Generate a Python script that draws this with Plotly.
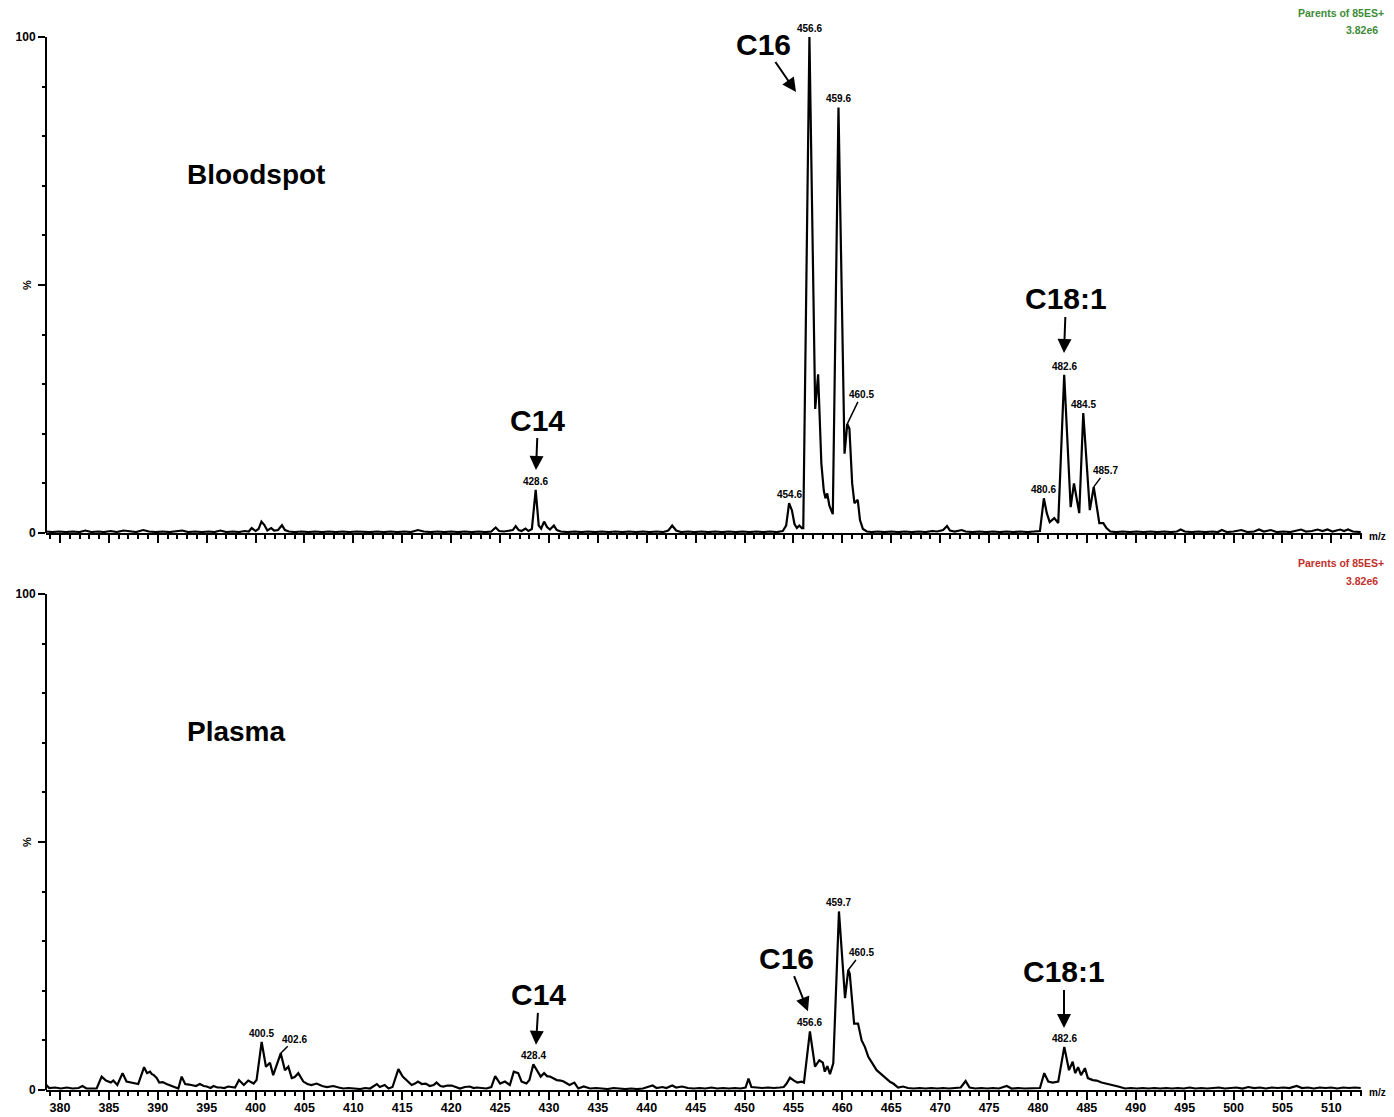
import plotly.graph_objects as go

# ---------------- data ----------------
bs_mz = [378.6, 379.2, 379.9, 380.6, 381.3, 382.0, 382.6, 383.2, 383.9, 384.5, 385.2, 385.8, 386.5, 387.1,
         387.8, 388.5, 389.1, 389.8, 390.5, 391.2, 391.9, 392.5, 393.1, 393.8, 394.5, 395.2, 395.8, 396.4,
         397.0, 397.7, 398.3, 398.9, 399.3, 399.6, 400.0, 400.3, 400.6, 400.9, 401.2, 401.6, 401.9, 402.3,
         402.7, 403.0, 403.4, 404.0, 404.7, 405.4, 406.1, 406.8, 407.5, 408.2, 408.9, 409.6, 410.3, 411.0,
         411.7, 412.4, 413.1, 413.8, 414.5, 415.2, 415.9, 416.6, 417.2, 417.9, 418.6, 419.3, 420.0, 420.7,
         421.4, 422.1, 422.8, 423.5, 424.1, 424.55, 424.9, 425.4, 425.9, 426.3, 426.6, 426.9, 427.2, 427.6,
         427.9, 428.25, 428.64, 428.95, 429.2, 429.5, 429.8, 430.1, 430.5, 430.8, 431.2, 431.9, 432.6, 433.3,
         434.0, 434.7, 435.4, 436.1, 436.8, 437.5, 438.2, 438.9, 439.6, 440.3, 441.0, 441.7, 442.2, 442.6,
         443.0, 443.5, 444.2, 444.9, 445.6, 446.3, 447.0, 447.7, 448.4, 449.1, 449.8, 450.5, 451.2, 451.9,
         452.6, 453.3, 453.9, 454.25, 454.55, 454.85, 455.1, 455.35, 455.6, 455.85, 456.0, 456.63, 457.22,
         457.52, 457.85, 458.1, 458.27, 458.45, 458.67, 459.02, 459.6, 460.22, 460.5, 460.72, 461.0, 461.23,
         461.57, 461.8, 462.1, 462.5, 463.0, 463.6, 464.3, 465.0, 465.7, 466.4, 467.1, 467.8, 468.5, 469.2,
         469.7, 470.3, 470.7, 471.0, 471.5, 472.2, 472.6, 473.3, 474.0, 474.7, 475.4, 476.1, 476.8, 477.5,
         478.2, 478.9, 479.6, 480.2, 480.6, 480.9, 481.2, 481.67, 482.07, 482.68, 483.34, 483.68, 484.22,
         484.63, 485.3, 485.7, 486.27, 486.68, 487.0, 487.4, 488.0, 488.7, 489.4, 490.1, 490.8, 491.5, 492.2,
         492.9, 493.6, 494.2, 494.6, 495.0, 495.7, 496.4, 497.1, 497.8, 498.4, 498.8, 499.3, 500.0, 500.8,
         501.4, 502.1, 502.6, 503.1, 503.8, 504.4, 505.1, 505.8, 506.4, 506.9, 507.4, 508.0, 508.6, 509.1,
         509.6, 510.1, 510.9, 511.3, 511.7, 512.2, 513.0]
bs_int = [0.3, 0.2, 0.3, 0.2, 0.3, 0.2, 0.5, 0.2, 0.3, 0.2, 0.4, 0.2, 0.5, 0.3,
          0.2, 0.6, 0.3, 0.2, 0.3, 0.2, 0.3, 0.5, 0.2, 0.3, 0.2, 0.3, 0.2, 0.5,
          0.2, 0.3, 0.2, 0.4, 0.3, 1.0, 0.4, 0.8, 2.3, 1.6, 0.5, 1.0, 0.5, 0.6,
          1.6, 0.6, 0.3, 0.2, 0.3, 0.2, 0.3, 0.2, 0.3, 0.2, 0.3, 0.2, 0.3, 0.2,
          0.2, 0.3, 0.2, 0.3, 0.2, 0.3, 0.2, 0.6, 0.3, 0.2, 0.3, 0.2, 0.3, 0.2,
          0.3, 0.2, 0.3, 0.2, 0.3, 1.1, 0.4, 0.3, 0.4, 0.6, 1.4, 0.6, 0.4, 0.9,
          0.4, 0.8, 8.7, 1.5, 0.9, 2.3, 1.2, 0.7, 1.5, 0.6, 0.3, 0.2, 0.3, 0.2,
          0.3, 0.2, 0.3, 0.2, 0.3, 0.2, 0.3, 0.2, 0.3, 0.2, 0.3, 0.2, 0.5, 1.5,
          0.5, 0.2, 0.3, 0.2, 0.3, 0.2, 0.3, 0.2, 0.3, 0.2, 0.3, 0.2, 0.3, 0.2,
          0.3, 0.2, 0.4, 1.5, 6.0, 4.5, 1.8, 1.0, 1.5, 1.0, 1.0, 100.0, 25.0,
          32.0, 14.0, 8.5, 7.0, 8.0, 5.5, 3.8, 85.8, 16.0, 22.0, 21.0, 10.0, 6.0,
          6.7, 2.6, 0.8, 0.3, 0.2, 0.3, 0.2, 0.3, 0.2, 0.3, 0.2, 0.3, 0.2, 0.4,
          0.3, 0.6, 1.4, 0.5, 0.3, 0.6, 0.3, 0.2, 0.3, 0.2, 0.3, 0.2, 0.3, 0.2,
          0.3, 0.2, 0.3, 0.4, 7.0, 4.0, 2.2, 3.0, 2.0, 31.9, 5.2, 10.0, 4.0,
          24.2, 4.6, 9.3, 2.0, 2.0, 1.0, 0.3, 0.2, 0.3, 0.2, 0.3, 0.2, 0.3, 0.2,
          0.3, 0.2, 0.3, 0.7, 0.3, 0.2, 0.3, 0.2, 0.3, 0.2, 0.6, 0.2, 0.3, 0.6,
          0.2, 0.3, 0.7, 0.3, 0.6, 0.2, 0.3, 0.2, 0.4, 0.7, 0.3, 0.4, 0.7, 0.4,
          0.7, 0.3, 0.7, 0.4, 0.7, 0.3, 0.2]

pl_mz = [378.6, 378.9, 379.5, 380.1, 380.7, 381.3, 381.9, 382.3, 382.7, 383.3, 383.75, 384.26, 384.7,
         385.2, 385.45, 385.86, 386.4, 386.8, 387.2, 387.6, 388.0, 388.6, 388.9, 389.2, 389.4, 389.6,
         389.9, 390.15, 390.5, 390.9, 391.6, 392.1, 392.44, 392.8, 393.2, 393.5, 393.9, 394.3, 394.7,
         395.0, 395.4, 395.7, 396.1, 396.4, 396.8, 397.2, 397.6, 397.9, 398.3, 398.8, 399.25, 399.8,
         400.1, 400.62, 401.06, 401.47, 401.8, 402.16, 402.57, 403.0, 403.35, 403.7, 404.0, 404.37,
         404.88, 405.3, 405.7, 406.25, 406.8, 407.3, 407.95, 408.5, 408.97, 409.5, 410.1, 410.7, 411.2,
         411.7, 412.4, 412.7, 413.2, 413.6, 414.0, 414.6, 415.04, 415.45, 415.96, 416.3, 416.6, 417.0,
         417.4, 417.8, 418.2, 418.5, 418.9, 419.2, 419.6, 420.05, 420.5, 420.9, 421.4, 421.9, 422.3,
         422.6, 423.1, 423.6, 424.1, 424.5, 425.0, 425.5, 426.0, 426.4, 426.85, 427.2, 427.7, 428.0,
         428.4, 428.8, 429.15, 429.5, 429.8, 430.1, 430.5, 430.8, 431.2, 431.5, 432.1, 432.6, 433.0,
         433.55, 434.2, 434.8, 435.4, 436.0, 436.6, 437.2, 437.8, 438.4, 439.0, 439.6, 440.2, 440.6,
         441.0, 441.6, 442.0, 442.6, 443.0, 443.6, 444.2, 444.8, 445.4, 446.0, 446.6, 447.2, 447.8,
         448.4, 449.0, 449.6, 450.1, 450.4, 450.7, 451.2, 451.8, 452.4, 453.0, 453.6, 454.0, 454.3,
         454.64, 455.05, 455.4, 455.83, 456.07, 456.68, 457.2, 457.64, 458.0, 458.2, 458.46, 458.73,
         459.07, 459.65, 460.27, 460.6, 460.75, 461.2, 461.6, 461.97, 462.3, 462.65, 463.16, 463.5,
         463.85, 464.2, 464.5, 464.9, 465.2, 465.7, 466.2, 466.7, 467.3, 467.9, 468.5, 469.1, 469.7,
         470.3, 470.9, 471.5, 472.1, 472.6, 473.0, 473.6, 474.2, 474.8, 475.4, 476.0, 476.8, 477.3,
         478.0, 478.6, 479.3, 480.2, 480.64, 481.05, 481.5, 482.07, 482.69, 483.17, 483.55, 483.8,
         484.1, 484.4, 484.8, 485.1, 485.6, 486.0, 486.5, 487.0, 487.7, 488.2, 488.9, 489.5, 490.1,
         490.7, 491.3, 491.9, 492.5, 493.1, 493.7, 494.3, 494.9, 495.5, 496.1, 496.7, 497.3, 497.9,
         498.5, 499.1, 499.7, 500.3, 500.9, 501.5, 502.1, 502.7, 503.3, 503.9, 504.5, 505.1, 505.7,
         506.45, 507.0, 507.6, 508.2, 508.8, 509.4, 510.0, 510.6, 511.2, 511.8, 512.4, 513.0]
pl_int = [1.0, 0.4, 0.5, 0.3, 0.5, 0.3, 0.4, 0.8, 0.3, 0.3, 0.3, 2.7, 1.9,
          1.5, 1.9, 1.0, 3.4, 1.7, 1.5, 1.4, 1.2, 4.6, 3.4, 3.7, 3.2, 3.0,
          2.4, 1.5, 1.6, 1.2, 0.7, 0.3, 2.7, 1.2, 1.1, 1.0, 0.8, 1.2, 0.8,
          0.7, 0.4, 0.8, 0.5, 0.5, 0.4, 0.7, 0.5, 0.5, 2.0, 1.0, 1.9, 1.3,
          2.0, 9.7, 4.7, 5.5, 3.0, 5.0, 7.4, 4.0, 4.7, 2.4, 2.6, 3.4,
          1.7, 1.2, 1.0, 1.3, 0.8, 0.6, 0.8, 0.5, 0.3, 0.4, 0.3, 0.2, 0.4,
          0.3, 1.2, 0.6, 1.0, 0.3, 0.6, 4.2, 2.7, 2.0, 1.0, 1.3, 1.7, 1.2,
          1.3, 0.8, 1.0, 1.5, 0.8, 0.7, 0.9, 0.9, 0.6, 0.3, 0.6, 0.7, 0.4,
          0.5, 0.4, 0.3, 0.6, 2.8, 1.3, 1.7, 1.0, 3.7, 3.4, 1.7, 1.3, 2.0,
          5.2, 4.0, 2.7, 3.4, 2.8, 2.7, 2.3, 2.0, 1.9, 1.7, 1.0, 1.5, 0.3,
          0.7, 0.3, 0.4, 0.3, 0.2, 0.4, 0.3, 0.2, 0.3, 0.2, 0.3, 0.6, 0.9,
          0.4, 0.6, 0.4, 0.9, 0.5, 0.7, 0.4, 0.3, 0.4, 0.3, 0.5, 0.3, 0.4,
          0.3, 0.4, 0.3, 0.5, 2.3, 0.6, 0.5, 0.4, 0.5, 0.4, 0.5, 0.6, 1.3,
          2.5, 1.9, 1.5, 1.7, 1.5, 11.8, 4.7, 6.0, 5.5, 3.7, 4.8, 3.2,
          5.4, 36.0, 18.5, 24.2, 23.5, 13.4, 13.4, 10.0, 8.7, 6.7, 5.0, 4.0,
          3.4, 2.8, 2.3, 1.6, 1.3, 0.5, 0.7, 0.4, 0.3, 0.4, 0.3, 0.4, 0.3,
          0.4, 0.3, 0.4, 0.5, 1.8, 0.5, 0.3, 0.4, 0.3, 0.4, 0.3, 0.8, 0.3,
          0.4, 0.3, 0.4, 0.4, 3.4, 1.7, 1.5, 1.7, 8.7, 4.0, 5.7, 3.4,
          4.6, 3.0, 4.4, 2.4, 2.0, 1.9, 1.5, 1.3, 1.0, 0.7, 0.3, 0.4, 0.3,
          0.4, 0.3, 0.4, 0.3, 0.4, 0.3, 0.4, 0.3, 0.5, 0.3, 0.4, 0.3, 0.4,
          0.5, 0.3, 0.4, 0.5, 0.3, 0.6, 0.4, 0.5, 0.3, 0.5, 0.4, 0.5, 0.4,
          0.8, 0.4, 0.5, 0.3, 0.5, 0.4, 0.5, 0.3, 0.5, 0.4, 0.5, 0.4]

x_ticks = list(range(380, 511, 5))
bs_peak_labels = ["454.6", "456.6", "459.6", "428.6", "480.6", "482.6", "484.5"]
bs_leader_labels = ["460.5", "485.7"]
pl_peak_labels = ["400.5", "428.4", "456.6", "459.7", "482.6"]
pl_leader_labels = ["402.6", "460.5"]
sample_names = ["Bloodspot", "Plasma"]
header_lines = ["Parents of 85ES+", "3.82e6"]

# ---------------- figure ----------------
FONT = "Liberation Sans, Arial, Helvetica, sans-serif"
XR = [378.57, 513.13]
YR = [0, 101.41]


def apex(mzs, ints, target, win=0.35):
    best = None
    for m, v in zip(mzs, ints):
        if abs(m - target) <= win and (best is None or v > best[1]):
            best = (m, v)
    return best


fig = go.Figure()
fig.add_trace(go.Scatter(x=bs_mz, y=bs_int, mode="lines", line=dict(color="black", width=2.2),
                         xaxis="x", yaxis="y", hoverinfo="skip", showlegend=False))
fig.add_trace(go.Scatter(x=pl_mz, y=pl_int, mode="lines", line=dict(color="black", width=2.2),
                         xaxis="x2", yaxis="y2", hoverinfo="skip", showlegend=False))

xax = dict(range=XR, showline=True, linecolor="black", linewidth=2, showgrid=False, zeroline=False,
           automargin=False,
           tickmode="array", tickvals=x_ticks, ticktext=[f"<b>{t}</b>" for t in x_ticks],
           ticks="outside", ticklen=8, tickwidth=2, tickcolor="black",
           tickfont=dict(family=FONT, size=12.5, color="black"),
           minor=dict(tickmode="linear", tick0=380, dtick=1, ticks="outside", ticklen=4,
                      tickwidth=1.5, tickcolor="black"))
yax = dict(range=YR, showline=False, showgrid=False, zeroline=False, automargin=False,
           tickmode="array", tickvals=[0, 50, 100], ticktext=["<b>0</b>", "", "<b>100</b>"],
           ticks="outside", ticklen=7, tickwidth=2, tickcolor="black",
           tickfont=dict(family=FONT, size=12, color="black"),
           minor=dict(tickmode="linear", tick0=0, dtick=10, ticks="outside", ticklen=3,
                      tickwidth=1.5, tickcolor="black"))

fig.update_layout(
    template="none",
    width=1394, height=1117,
    margin=dict(l=46, r=32, t=30, b=27, autoexpand=False),
    paper_bgcolor="white", plot_bgcolor="white",
    showlegend=False,
    xaxis=dict(xax, anchor="y", domain=[0, 1], showticklabels=False),
    yaxis=dict(yax, anchor="x", domain=[0.52547, 1]),
    xaxis2=dict(xax, anchor="y2", domain=[0, 1], showticklabels=True, ticklabelstandoff=-3),
    yaxis2=dict(yax, anchor="x2", domain=[0, 0.47453]),
)

shapes = []
for yr, xr in [("y", "x domain"), ("y2", "x2 domain")]:
    shapes.append(dict(type="line", xref=xr, yref=yr,
                       x0=0, x1=0, y0=0, y1=100, line=dict(color="black", width=2)))
fig.update_layout(shapes=shapes)

ann = []
# sample names
for name, xr, yr in [(sample_names[0], "x", "y"), (sample_names[1], "x2", "y2")]:
    ann.append(dict(text=f"<b>{name}</b>", xref=xr, yref=yr, x=392.8, y=72.2, xanchor="left",
                    yanchor="middle", showarrow=False, font=dict(family=FONT, size=28, color="black")))

# header text at top right of each panel
hdr = [("#3d8b37", 1.0, 17, 1.0, 0), ("#c2302c", 0.47453, 24, 0.47453, 6)]
for col, y1, s1, y2, s2 in hdr:
    ann.append(dict(text=f"<b>{header_lines[0]}</b>", xref="paper", yref="paper", x=1, y=y1,
                    xanchor="right", yanchor="middle", xshift=24, yshift=s1, showarrow=False,
                    font=dict(family=FONT, size=10.5, color=col)))
    ann.append(dict(text=f"<b>{header_lines[1]}</b>", xref="paper", yref="paper", x=1, y=y2,
                    xanchor="right", yanchor="middle", xshift=18, yshift=s2, showarrow=False,
                    font=dict(family=FONT, size=10.5, color=col)))

# % and m/z axis titles
for yr in ["y", "y2"]:
    ann.append(dict(text="<b>%</b>", xref="paper", yref=yr, x=0, y=50, xshift=-19, textangle=-90,
                    showarrow=False, xanchor="center", yanchor="middle",
                    font=dict(family=FONT, size=11, color="black")))
    ann.append(dict(text="<b>m/z</b>", xref="paper", yref=yr, x=1, y=0, xshift=5, yshift=-3,
                    xanchor="left", yanchor="middle", showarrow=False,
                    font=dict(family=FONT, size=10, color="black")))

# peak labels
for labels, mzs, ints, xr, yr in [(bs_peak_labels, bs_mz, bs_int, "x", "y"),
                                  (pl_peak_labels, pl_mz, pl_int, "x2", "y2")]:
    for lab in labels:
        m, v = apex(mzs, ints, float(lab))
        ann.append(dict(text=f"<b>{lab}</b>", xref=xr, yref=yr, x=m, y=v, xanchor="center",
                        yanchor="bottom", yshift=1, showarrow=False,
                        font=dict(family=FONT, size=10, color="black")))

leader_offsets = {("y", "460.5"): (14, -29), ("y", "485.7"): (12, -16),
                  ("y2", "402.6"): (14, -14), ("y2", "460.5"): (13, -17)}
for labels, mzs, ints, xr, yr in [(bs_leader_labels, bs_mz, bs_int, "x", "y"),
                                  (pl_leader_labels, pl_mz, pl_int, "x2", "y2")]:
    for lab in labels:
        m, v = apex(mzs, ints, float(lab))
        ax, ay = leader_offsets[(yr, lab)]
        ann.append(dict(text=f"<b>{lab}</b>", xref=xr, yref=yr, x=m, y=v, ax=ax, ay=ay,
                        showarrow=True, arrowhead=0, arrowwidth=1.5, arrowcolor="black",
                        font=dict(family=FONT, size=10, color="black")))

# compound arrows
compounds = [("C14", "x", "y", 428.67, 12.7, 2, -50),
             ("C16", "x", "y", 455.26, 88.9, -33, -48),
             ("C18:1", "x", "y", 482.66, 36.3, 2, -54),
             ("C14", "x2", "y2", 428.67, 9.1, 3, -50),
             ("C16", "x2", "y2", 456.48, 15.9, -21, -53),
             ("C18:1", "x2", "y2", 482.66, 12.5, 0, -56)]
for txt, xr, yr, x, y, ax, ay in compounds:
    ann.append(dict(text=f"<b>{txt}</b>", xref=xr, yref=yr, x=x, y=y, ax=ax, ay=ay,
                    showarrow=True, arrowhead=2, arrowsize=1.4, arrowwidth=2, arrowcolor="black",
                    font=dict(family=FONT, size=30, color="black")))

fig.update_layout(annotations=ann)

fig.write_html("out.html", config={"displayModeBar": False},
               post_script="document.body.style.margin='0';document.body.style.overflow='hidden';")
